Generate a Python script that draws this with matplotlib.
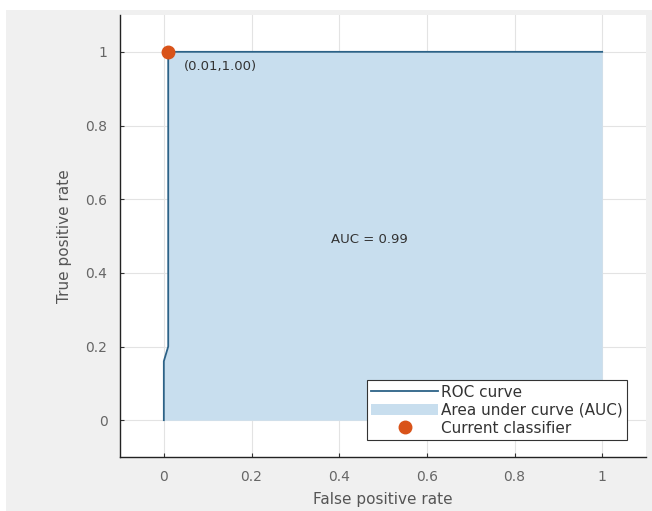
import matplotlib
matplotlib.use("Agg")
import matplotlib.pyplot as plt
from matplotlib.patches import Rectangle

# ROC data
fpr = [0.0, 0.0, 0.01, 0.01, 1.0]
tpr = [0.0, 0.16, 0.20, 1.0, 1.0]
current_point = (0.01, 1.00)
auc_value = 0.99
ticks = [0, 0.2, 0.4, 0.6, 0.8, 1]
tick_labels = ["0", "0.2", "0.4", "0.6", "0.8", "1"]

plt.rcParams['font.family'] = ['DejaVu Sans']

fig = plt.figure(figsize=(6.52, 5.11), dpi=100)
fig.patch.set_facecolor('white')
fig.patches.append(Rectangle((6/652, 0), 1, (511-10)/511, transform=fig.transFigure,
                             facecolor='#f0f0f0', edgecolor='none', zorder=-10))

ax = fig.add_axes([120/652, (511-457)/511, (646-120)/652, (457-15)/511])
ax.set_facecolor('white')

ax.fill_between(fpr, tpr, 0, color='#c8deee', linewidth=0, label='Area under curve (AUC)', zorder=2)
line, = ax.plot(fpr, tpr, color='#2c6287', linewidth=1.3, label='ROC curve', zorder=3)
ax.plot([current_point[0]], [current_point[1]], 'o', color='#d95319', markersize=9,
        label='Current classifier', zorder=4, clip_on=False)
ax.text(current_point[0] + 0.036, current_point[1] - 0.04,
        f"({current_point[0]:.2f},{current_point[1]:.2f})", fontsize=9.5, color='#333333',
        va='center', zorder=5)
ax.text(0.47, 0.49, f"AUC = {auc_value:.2f}", fontsize=9.5, color='#333333',
        ha='center', va='center', zorder=5)

ax.set_xlim(-0.1, 1.1)
ax.set_ylim(-0.1, 1.1)
ax.set_xticks(ticks)
ax.set_xticklabels(tick_labels)
ax.set_yticks(ticks)
ax.set_yticklabels(tick_labels)
ax.grid(True, color='#e3e3e3', linewidth=0.8, zorder=0)
ax.set_axisbelow(True)
ax.tick_params(axis='both', labelsize=10, labelcolor='#666666', color='#333333',
               direction='in', length=3, width=0.8)
ax.tick_params(axis='x', pad=9)
ax.tick_params(axis='y', pad=9)
for s in ['top', 'right']:
    ax.spines[s].set_visible(False)
for s in ['left', 'bottom']:
    ax.spines[s].set_color('#222222')
    ax.spines[s].set_linewidth(1.0)

ax.set_xlabel('False positive rate', fontsize=11, color='#555555', labelpad=6)
ax.set_ylabel('True positive rate', fontsize=11, color='#555555', labelpad=10)

handles, labels = ax.get_legend_handles_labels()
order = [labels.index('ROC curve'), labels.index('Area under curve (AUC)'), labels.index('Current classifier')]
leg = ax.legend([handles[i] for i in order], [labels[i] for i in order],
                loc='lower right', bbox_to_anchor=(0.964, 0.038), fontsize=11,
                frameon=True, fancybox=False, framealpha=1, edgecolor='#333333',
                borderpad=0.3, labelspacing=0.2, handlelength=4.4, handletextpad=0.15,
                borderaxespad=0)
leg.get_frame().set_linewidth(0.8)
for t in leg.get_texts():
    t.set_color('#333333')

fig.savefig('out.png', dpi=100, facecolor=fig.get_facecolor())
